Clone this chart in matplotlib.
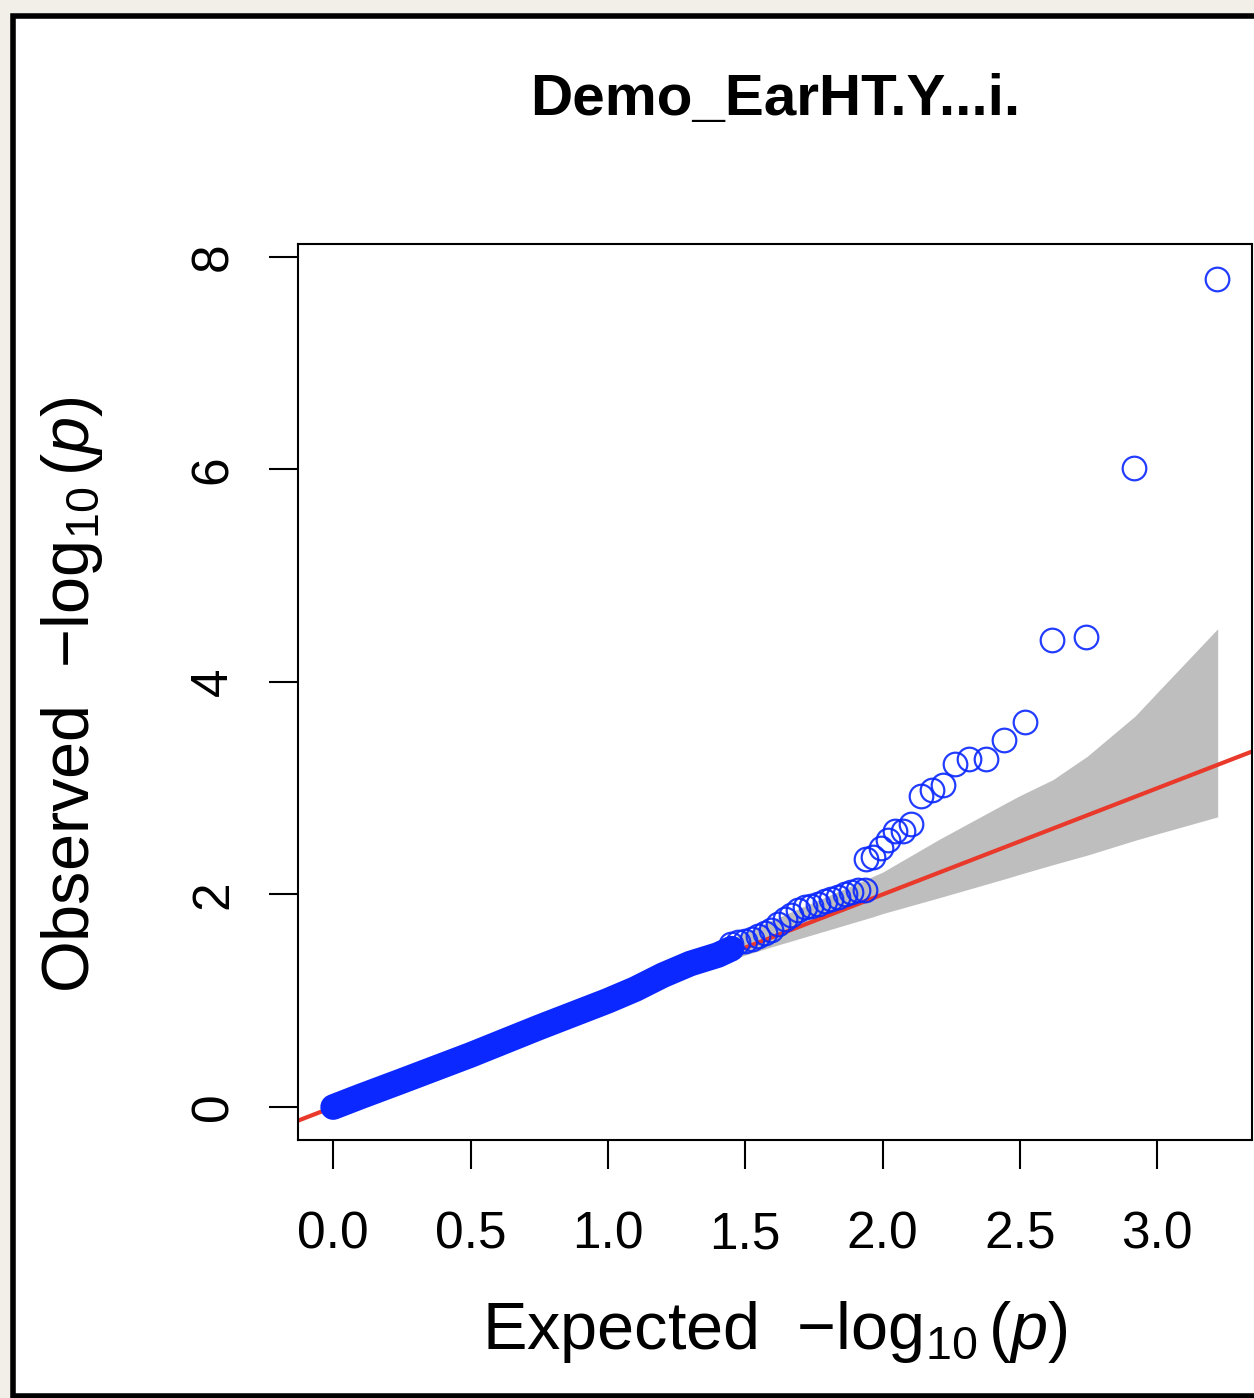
import numpy as np
import matplotlib
matplotlib.use("Agg")
import matplotlib.pyplot as plt
from matplotlib.patches import Rectangle

# ---- data ----
title = "Demo_EarHT.Y...i."

# dense part of the cloud (rendered as a solid band of overlapping circles)
bulk_exp = [0.0, 0.1, 0.25, 0.5, 0.75, 0.9, 1.0, 1.1, 1.2, 1.3, 1.4, 1.45]
bulk_obs = [0.0, 0.1, 0.245, 0.49, 0.75, 0.9, 1.0, 1.11, 1.24, 1.35, 1.43, 1.49]

# chain of overlapping circles
chain_exp = [1.45, 1.474, 1.498, 1.523, 1.547, 1.571, 1.595, 1.62, 1.644, 1.668, 1.692,
             1.716, 1.74, 1.765, 1.789, 1.813, 1.838, 1.862, 1.885, 1.91, 1.935]
chain_obs = [1.53, 1.55, 1.56, 1.58, 1.61, 1.64, 1.67, 1.72, 1.77, 1.81, 1.85,
             1.88, 1.89, 1.91, 1.94, 1.96, 1.98, 2.00, 2.02, 2.04, 2.04]

# upper tail
tail_exp = [1.938, 1.965, 1.995, 2.019, 2.044, 2.074, 2.104, 2.140, 2.180, 2.219,
            2.264, 2.316, 2.375, 2.441, 2.519, 2.617, 2.740, 2.916, 3.218]
tail_obs = [2.33, 2.35, 2.44, 2.51, 2.60, 2.60, 2.66, 2.93, 2.98, 3.03,
            3.23, 3.27, 3.27, 3.45, 3.62, 4.39, 4.42, 6.01, 7.79]

# 95% confidence band
band_exp = [0.0, 0.5, 1.0, 1.5, 1.6, 1.965, 2.0, 2.207, 2.449, 2.5, 2.62, 2.745, 2.92, 3.0, 3.22]
band_lo = [0.0, 0.46, 0.93, 1.43, 1.51, 1.79, 1.82, 1.97, 2.15, 2.19, 2.28, 2.37, 2.51, 2.57, 2.73]
band_hi = [0.01, 0.56, 1.10, 1.64, 1.76, 2.17, 2.21, 2.52, 2.86, 2.93, 3.08, 3.30, 3.68, 3.90, 4.50]

ab_intercept, ab_slope = 0.0, 1.0

xticks = [0.0, 0.5, 1.0, 1.5, 2.0, 2.5, 3.0]
yticks = [0, 2, 4, 6, 8]

plt.rcParams['font.family'] = ['Liberation Sans', 'DejaVu Sans']
plt.rcParams['mathtext.fontset'] = 'custom'
plt.rcParams['mathtext.rm'] = 'Liberation Sans'
plt.rcParams['mathtext.it'] = 'Liberation Sans:italic'

W, H = 1254, 1398
fig = plt.figure(figsize=(W / 100, H / 100), dpi=100, facecolor="#f2efe8")

# screenshot frame
fig.patches.append(Rectangle((12.5 / W, 2.5 / H), 1.1, (H - 18.5) / H, transform=fig.transFigure,
                             facecolor="white", edgecolor="black", linewidth=4, zorder=-1))

ax = fig.add_axes([298 / W, (H - 1140) / H, (1252 - 298) / W, (1140 - 244) / H])
ax.set_zorder(2)
ax.set_xlim(-0.128, 3.345)
ax.set_ylim(-0.31, 8.12)

ax.fill_between(band_exp, band_lo, band_hi, color="#bebebe", linewidth=0, zorder=1)
ax.axline((0, ab_intercept), slope=ab_slope, color="#e8392b", linewidth=3, zorder=2)

blue = "#0a28ff"
ax.plot(bulk_exp, bulk_obs, color=blue, linewidth=18.5, solid_capstyle="round",
        solid_joinstyle="round", zorder=3)
ax.plot(chain_exp + tail_exp, chain_obs + tail_obs, linestyle="none", marker="o", markersize=17,
        markerfacecolor="none", markeredgecolor=blue, markeredgewidth=1.6, alpha=0.9, zorder=4)

ax.set_xticks(xticks)
ax.set_xticklabels([f"{v:.1f}" for v in xticks], fontsize=37)
ax.set_yticks(yticks)
ax.set_yticklabels([str(v) for v in yticks], fontsize=37, rotation=90, va="center")
ax.tick_params(axis="both", length=21, width=1.5, direction="out")
ax.tick_params(axis="x", pad=30)
ax.tick_params(axis="y", pad=22)
for s in ax.spines.values():
    s.set_linewidth(1.5)

fig.text(775 / W, (H - 100) / H, title, fontsize=42, fontweight="bold", ha="center", va="center")
fig.text(775 / W, (H - 1332) / H, r"Expected  $-\log_{10}(p)$", fontsize=48, ha="center", va="center")
fig.text(72 / W, (H - 695) / H, r"Observed  $-\log_{10}(p)$", fontsize=48, ha="center", va="center",
         rotation=90)

fig.savefig("out.png", dpi=100, facecolor=fig.get_facecolor())
